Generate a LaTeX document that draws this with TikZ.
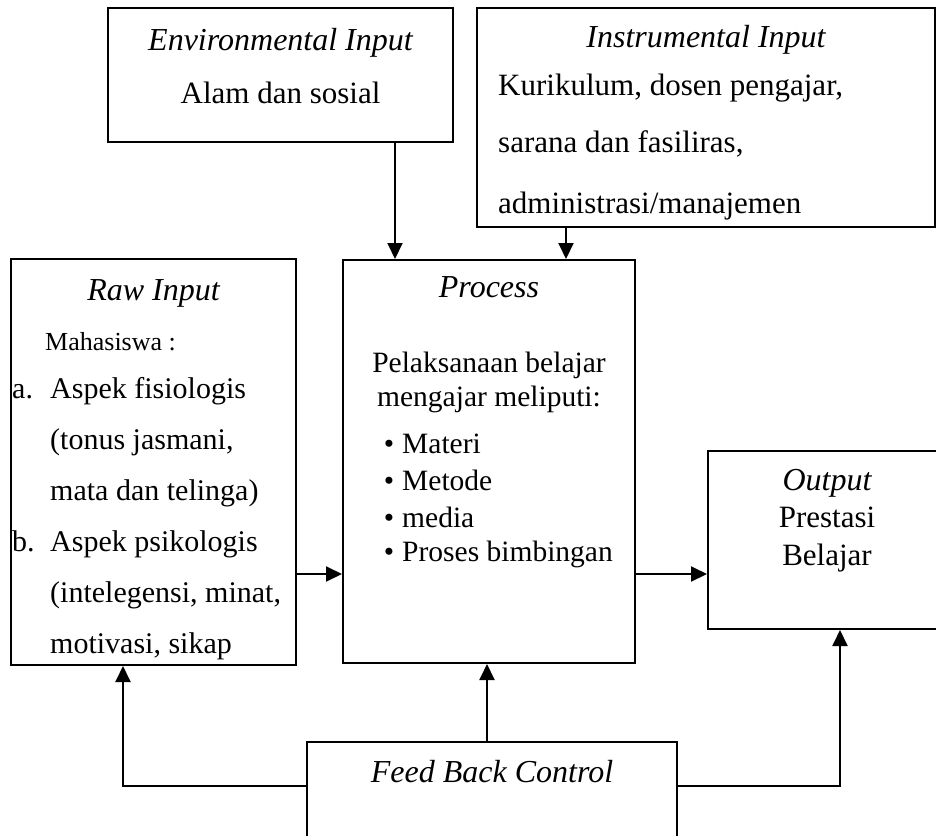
\documentclass[tikz,border=0pt]{standalone}
\usepackage{fontspec}
\setmainfont{Liberation Serif}
\usetikzlibrary{arrows.meta}
\begin{document}
\begin{tikzpicture}[x=1pt,y=-1pt,
  box/.style={draw, line width=2pt, inner sep=0pt, rectangle},
  arr/.style={line width=2pt, -{Triangle[length=16pt,width=15pt]}},
  ttl/.style={font=\fontsize{32}{36}\selectfont\itshape, inner sep=0pt, anchor=base},
  txt/.style={font=\fontsize{31}{36}\selectfont, inner sep=0pt, anchor=base},
  raw/.style={font=\fontsize{30}{36}\selectfont, inner sep=0pt, anchor=base west},
  pro/.style={font=\fontsize{29.5}{36}\selectfont, inner sep=0pt, anchor=base},
  bul/.style={font=\fontsize{29.5}{36}\selectfont, inner sep=0pt, anchor=base west}]
\useasboundingbox (0,0) rectangle (936,835);
\begin{scope}
\clip (0,0) rectangle (936,835);
% boxes
\node[box, minimum width=345pt, minimum height=134pt] (env) at (280.5,75) {};
\node[box, minimum width=458pt, minimum height=219pt] (ins) at (706,117.5) {};
\node[box, minimum width=285pt, minimum height=406pt] (raw) at (153.5,462) {};
\node[box, minimum width=292pt, minimum height=403pt] (proc) at (489,461.5) {};
\node[box, minimum width=238pt, minimum height=178pt] (out) at (827,540) {};
\node[box, minimum width=370pt, minimum height=108pt] (fb) at (492,796) {};
% helper coordinates
\coordinate (xE) at (395,0);
\coordinate (xI) at (566,0);
\coordinate (yA) at (0,574);
\coordinate (xF) at (487,0);
\coordinate (yB) at (0,786);
\coordinate (xL) at (123,0);
\coordinate (xR) at (840,0);
% connectors
\draw[arr] (env.south -| xE) -- (proc.north -| xE);
\draw[arr] (ins.south -| xI) -- (proc.north -| xI);
\draw[arr] (raw.east |- yA) -- (proc.west |- yA);
\draw[arr] (proc.east |- yA) -- (out.west |- yA);
\draw[arr] (fb.north -| xF) -- (proc.south -| xF);
\draw[arr] (fb.west |- yB) -| (raw.south -| xL);
\draw[arr] (fb.east |- yB) -| (out.south -| xR);
% environmental
\node[ttl] (envt) at (280.5,50) {Environmental Input};
\node[txt] (envb) at (280.5,103) {Alam dan sosial};
% instrumental
\node[ttl] (inst) at (706,47) {Instrumental Input};
\node[txt, anchor=base west] (ins1) at (498,95) {Kurikulum, dosen pengajar,};
\node[txt, anchor=base west] (ins2) at (498,152) {sarana dan fasiliras,};
\node[txt, anchor=base west] (ins3) at (498,213) {administrasi/manajemen};
% raw input
\node[ttl] (rawt) at (153.5,300) {Raw Input};
\node[raw, font=\fontsize{26}{30}\selectfont] (raw0) at (45,350) {Mahasiswa :};
\node[raw] (rawa) at (12,398) {a.};
\node[raw] (raw1) at (50,398) {Aspek fisiologis};
\node[raw] (raw2) at (50,449) {(tonus jasmani,};
\node[raw] (raw3) at (50,500) {mata dan telinga)};
\node[raw] (rawb) at (12,551) {b.};
\node[raw] (raw4) at (50,551) {Aspek psikologis};
\node[raw] (raw5) at (50,602) {(intelegensi, minat,};
\node[raw] (raw6) at (50,653) {motivasi, sikap};
% process
\node[ttl] (prot) at (489,297) {Process};
\node[pro] (pro1) at (489,372) {Pelaksanaan belajar};
\node[pro] (pro2) at (489,406) {mengajar meliputi:};
\node[pro] (bu1) at (389,453) {•};
\node[bul] (pb1) at (402,453) {Materi};
\node[pro] (bu2) at (389,490) {•};
\node[bul] (pb2) at (402,490) {Metode};
\node[pro] (bu3) at (389,527) {•};
\node[bul] (pb3) at (402,527) {media};
\node[pro] (bu4) at (389,561) {•};
\node[bul] (pb4) at (402,561) {Proses bimbingan};
% output
\node[ttl] (outt) at (827,490) {Output};
\node[txt] (out1) at (827,527) {Prestasi};
\node[txt] (out2) at (827,565) {Belajar};
% feedback
\node[ttl] (fbt) at (492,782) {Feed Back Control};
\end{scope}
\end{tikzpicture}
\end{document}
